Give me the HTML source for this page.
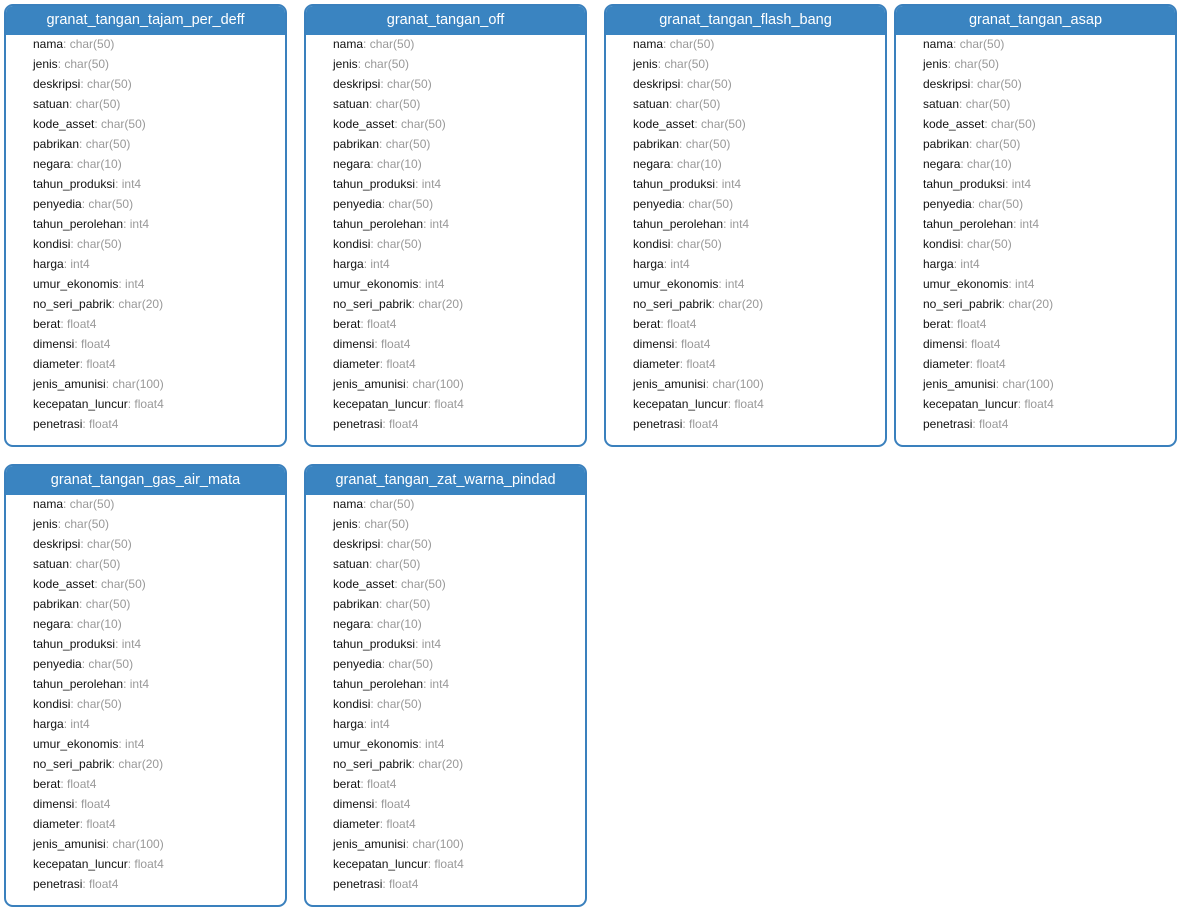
<!DOCTYPE html>
<html><head><meta charset="utf-8"><style>
body{margin:0;width:1180px;height:920px;background:#fff;font-family:"Liberation Sans",sans-serif;position:relative;overflow:hidden}
.tbl{position:absolute;box-sizing:border-box;border:2px solid #3a80bd;border-radius:9px;background:#fff;overflow:hidden}
.hd{height:29px;background:#3a84c1;color:#fff;font-size:14.5px;text-align:center;line-height:29px}
.row{position:absolute;left:27px;font-size:12px;color:#111;white-space:nowrap;line-height:20px}
.row span{color:#999}
</style></head><body>
<script>
const fields=[["nama","char(50)"],["jenis","char(50)"],["deskripsi","char(50)"],["satuan","char(50)"],["kode_asset","char(50)"],["pabrikan","char(50)"],["negara","char(10)"],["tahun_produksi","int4"],["penyedia","char(50)"],["tahun_perolehan","int4"],["kondisi","char(50)"],["harga","int4"],["umur_ekonomis","int4"],["no_seri_pabrik","char(20)"],["berat","float4"],["dimensi","float4"],["diameter","float4"],["jenis_amunisi","char(100)"],["kecepatan_luncur","float4"],["penetrasi","float4"]];
const tables=[["granat_tangan_tajam_per_deff",4,4],["granat_tangan_off",304,4],["granat_tangan_flash_bang",604,4],["granat_tangan_asap",894,4],["granat_tangan_gas_air_mata",4,464],["granat_tangan_zat_warna_pindad",304,464]];
tables.forEach(([n,x,y])=>{
const t=document.createElement('div');t.className='tbl';


t.style.left=x+'px';t.style.top=y+'px';t.style.width='283px';t.style.height='443px';
const h=document.createElement('div');h.className='hd';h.textContent=n;


t.appendChild(h);
fields.forEach((f,i)=>{const r=document.createElement('div');r.className='row';


r.style.top=(28+i*20)+'px';r.innerHTML=f[0]+'<span>: '+f[1]+'</span>';t.appendChild(r);});
document.body.appendChild(t);});
</script>
</body></html>
